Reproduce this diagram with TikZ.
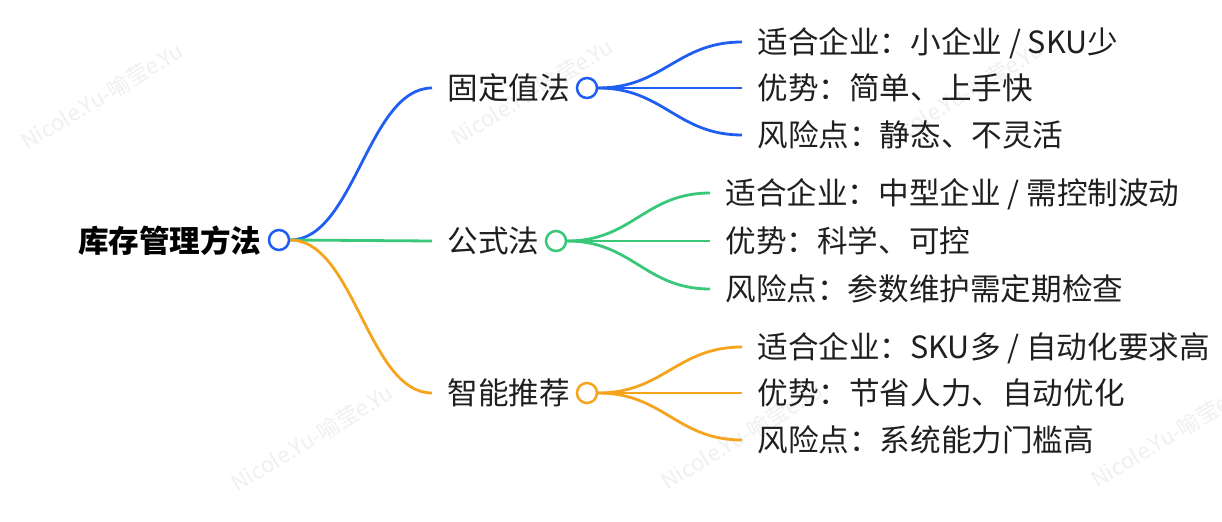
\documentclass[tikz,border=0pt]{standalone}
\usepackage{fontspec}
\usepackage{xcolor}
\usepackage{tikz}
\setmainfont{Noto Sans CJK SC}
\newfontfamily\cjk{Noto Sans CJK SC}
\definecolor{mapblue}{HTML}{1F5EF0}
\definecolor{mapgreen}{HTML}{38C878}
\definecolor{maporange}{HTML}{F5A41E}
\tikzset{
  topic/.style={font=\cjk\fontsize{15.3pt}{18pt}\selectfont, text=black!88, anchor=west,
    inner xsep=7.5pt, inner ysep=0pt, text height=13.5pt, text depth=1.9pt},
  rootnode/.style={font=\cjk\bfseries\fontsize{15.3pt}{18pt}\selectfont, text=black, anchor=east,
    inner sep=0pt, text height=13.5pt, text depth=1.9pt},
  dot/.style={circle, draw=#1, line width=1.25pt, fill=white, minimum size=10pt, inner sep=0pt},
  branch/.style={draw=#1, line width=1.4pt},
  wmark/.style={font=\cjk\fontsize{11pt}{13pt}\selectfont, text=black!6, rotate=31}
}

\begin{document}
\begin{tikzpicture}[x=0.5pt, y=-0.5pt]
\fill[white] (0,0) rectangle (1222,522);
\useasboundingbox (0,0) rectangle (1222,522);

% watermarks
\node[wmark] (wm1) at (102,96) {Nicole.Yu-喻莹e.Yu};
\node[wmark] (wm2) at (532,92) {Nicole.Yu-喻莹e.Yu};
\node[wmark] (wm3) at (962,95) {Nicole.Yu-喻莹e.Yu};
\node[wmark] (wm4) at (312,438) {Nicole.Yu-喻莹e.Yu};
\node[wmark] (wm5) at (742,436) {Nicole.Yu-喻莹e.Yu};
\node[wmark] (wm6) at (1172,434) {Nicole.Yu-喻莹e.Yu};

% root
\node[rootnode] (root) at (262,241) {库存管理方法};
\node[dot=mapblue] (rootdot) at (279,240) {};

% first level
\node[topic] (fixed) at (432,88) {固定值法};
\node[dot=mapblue] (fixeddot) at (587,88) {};
\node[topic] (formula) at (432,241) {公式法};
\node[dot=mapgreen] (formuladot) at (556,241) {};
\node[topic] (smart) at (432,393) {智能推荐};
\node[dot=maporange] (smartdot) at (587,393) {};

% second level
\node[topic] (fixeda) at (742,42) {适合企业：小企业 / SKU少};
\node[topic] (fixedb) at (742,88) {优势：简单、上手快};
\node[topic] (fixedc) at (742,135) {风险点：静态、不灵活};
\node[topic] (formulaa) at (710,193) {适合企业：中型企业 / 需控制波动};
\node[topic] (formulab) at (710,241) {优势：科学、可控};
\node[topic] (formulac) at (710,289) {风险点：参数维护需定期检查};
\node[topic] (smarta) at (742,347) {适合企业：SKU多 / 自动化要求高};
\node[topic] (smartb) at (742,393) {优势：节省人力、自动优化};
\node[topic] (smartc) at (742,440) {风险点：系统能力门槛高};

% branches
\draw[branch=mapblue] (rootdot.east) .. controls +(64,0) and +(-64,0) .. (fixed.west);
\draw[branch=mapgreen] (rootdot.east) -- (formula.west);
\draw[branch=maporange] (rootdot.east) .. controls +(64,0) and +(-64,0) .. (smart.west);

\draw[branch=mapblue] (fixeddot.east) .. controls +(65,0) and +(-65,0) .. (fixeda.west);
\draw[branch=mapblue] (fixeddot.east) -- (fixedb.west);
\draw[branch=mapblue] (fixeddot.east) .. controls +(65,0) and +(-65,0) .. (fixedc.west);

\draw[branch=mapgreen] (formuladot.east) .. controls +(65,0) and +(-65,0) .. (formulaa.west);
\draw[branch=mapgreen] (formuladot.east) -- (formulab.west);
\draw[branch=mapgreen] (formuladot.east) .. controls +(65,0) and +(-65,0) .. (formulac.west);

\draw[branch=maporange] (smartdot.east) .. controls +(65,0) and +(-65,0) .. (smarta.west);
\draw[branch=maporange] (smartdot.east) -- (smartb.west);
\draw[branch=maporange] (smartdot.east) .. controls +(65,0) and +(-65,0) .. (smartc.west);
\end{tikzpicture}
\end{document}
